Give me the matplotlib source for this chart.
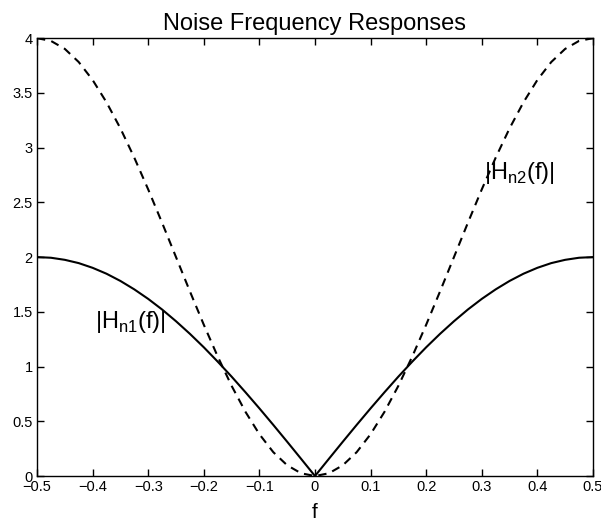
import numpy as np
import matplotlib.pyplot as plt

plt.rcParams['font.family'] = ['Liberation Sans', 'DejaVu Sans']

# frequency samples
freq = [-0.5, -0.475, -0.45, -0.425, -0.4, -0.375, -0.35, -0.325, -0.3, -0.275,
        -0.25, -0.225, -0.2, -0.175, -0.15, -0.125, -0.1, -0.075, -0.05, -0.025,
        0.0, 0.025, 0.05, 0.075, 0.1, 0.125, 0.15, 0.175, 0.2, 0.225,
        0.25, 0.275, 0.3, 0.325, 0.35, 0.375, 0.4, 0.425, 0.45, 0.475, 0.5]

# |Hn1(f)| magnitude
hn1 = [2.000, 1.994, 1.975, 1.945, 1.902, 1.848, 1.782, 1.705, 1.618, 1.521,
       1.414, 1.299, 1.176, 1.045, 0.908, 0.765, 0.618, 0.467, 0.313, 0.157,
       0.000, 0.157, 0.313, 0.467, 0.618, 0.765, 0.908, 1.045, 1.176, 1.299,
       1.414, 1.521, 1.618, 1.705, 1.782, 1.848, 1.902, 1.945, 1.975, 1.994, 2.000]

# |Hn2(f)| magnitude
hn2 = [4.000, 3.975, 3.902, 3.782, 3.618, 3.414, 3.176, 2.908, 2.618, 2.313,
       2.000, 1.687, 1.382, 1.092, 0.824, 0.586, 0.382, 0.218, 0.098, 0.025,
       0.000, 0.025, 0.098, 0.218, 0.382, 0.586, 0.824, 1.092, 1.382, 1.687,
       2.000, 2.313, 2.618, 2.908, 3.176, 3.414, 3.618, 3.782, 3.902, 3.975, 4.000]

xticks = [-0.5, -0.4, -0.3, -0.2, -0.1, 0, 0.1, 0.2, 0.3, 0.4, 0.5]
xticklabels = ['\u22120.5', '\u22120.4', '\u22120.3', '\u22120.2', '\u22120.1',
               '0', '0.1', '0.2', '0.3', '0.4', '0.5']
yticks = [0, 0.5, 1, 1.5, 2, 2.5, 3, 3.5, 4]
yticklabels = ['0', '0.5', '1', '1.5', '2', '2.5', '3', '3.5', '4']

fig = plt.figure(figsize=(6.01, 5.25), dpi=100)
ax = fig.add_axes([0.0616, 0.0933, 0.925, 0.834])

ax.plot(freq, hn1, color='black', lw=1.5)
ax.plot(freq, hn2, color='black', lw=1.5, dashes=(4, 3))

ax.set_xlim(-0.5, 0.5)
ax.set_ylim(0, 4)
ax.set_xticks(xticks)
ax.set_xticklabels(xticklabels)
ax.set_yticks(yticks)
ax.set_yticklabels(yticklabels)
ax.tick_params(direction='in', top=True, right=True, length=5, width=1,
               labelsize=10.5, pad=3)
for s in ax.spines.values():
    s.set_linewidth(1)

ax.set_title('Noise Frequency Responses', fontsize=17, pad=6)
ax.set_xlabel('f', fontsize=15, labelpad=6)

ax.text(0.304, 2.712, r'|H$_{\mathregular{n2}}$(f)|', fontsize=17, va='baseline')
ax.text(-0.396, 1.352, r'|H$_{\mathregular{n1}}$(f)|', fontsize=17, va='baseline')

fig.savefig('out.png', dpi=100)
